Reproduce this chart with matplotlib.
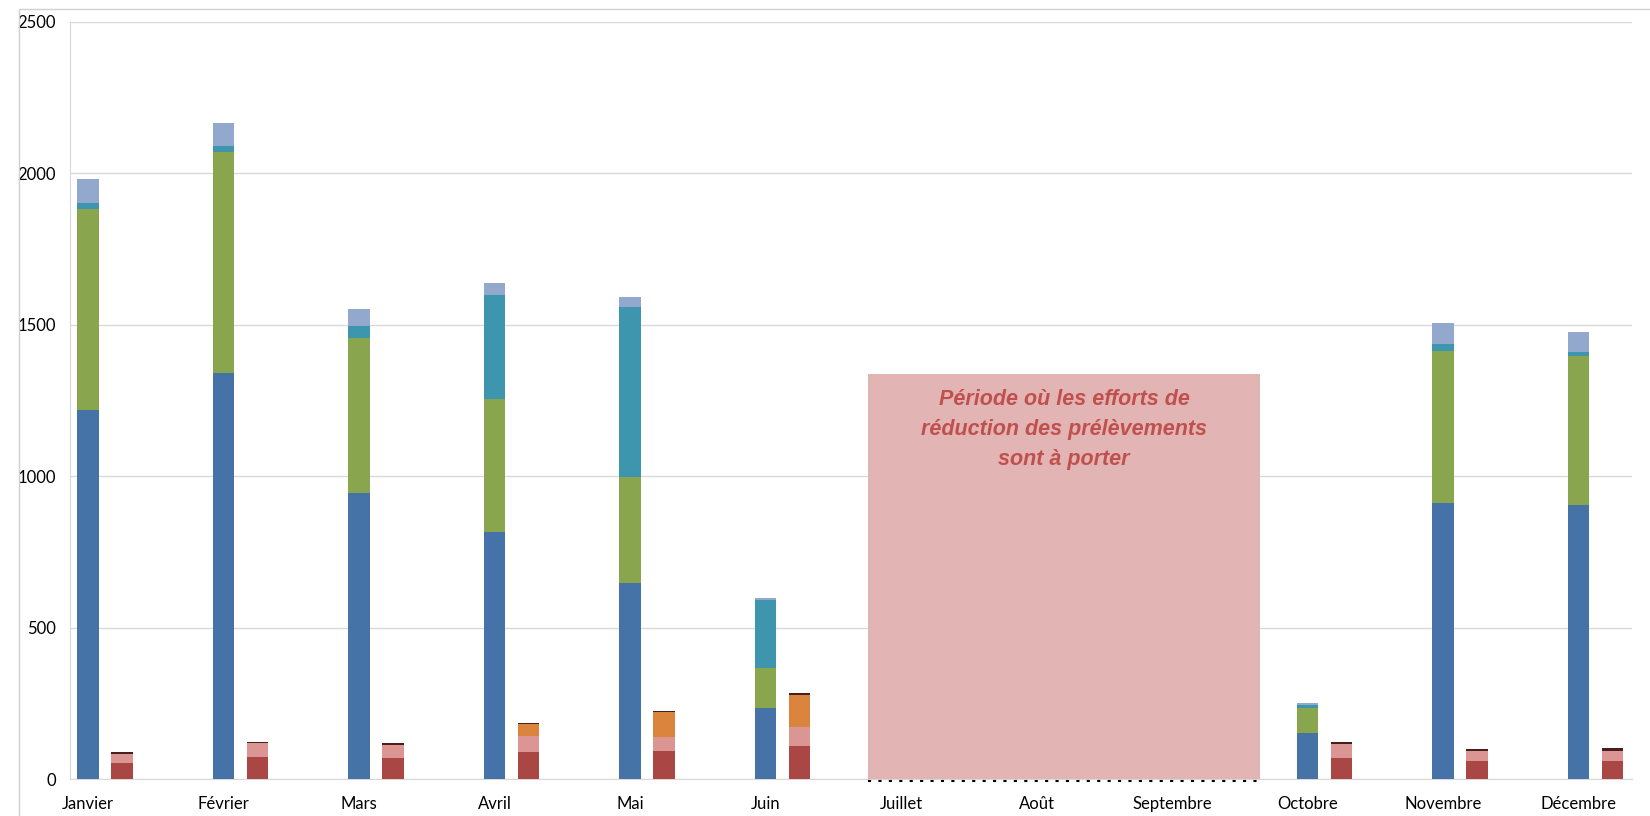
import matplotlib.pyplot as plt
from matplotlib.patches import Rectangle
import numpy as np

months = ["Janvier", "Février", "Mars", "Avril", "Mai", "Juin",
          "Juillet", "Août", "Septembre", "Octobre", "Novembre", "Décembre"]

# tall bars (bottom to top)
blue = [1219, 1340, 944, 816, 646, 236, 0, 0, 0, 151, 913, 906]
green = [662, 731, 511, 439, 351, 130, 0, 0, 0, 82, 500, 491]
teal = [20, 20, 42, 343, 563, 225, 0, 0, 0, 11, 24, 14]
light = [80, 76, 55, 39, 33, 6, 0, 0, 0, 6, 68, 64]

# small bars (bottom to top)
red = [52, 74, 70, 90, 92, 110, 0, 0, 0, 70, 59, 59]
pink = [31, 44, 43, 52, 48, 62, 0, 0, 0, 46, 34, 34]
orange = [0, 0, 0, 38, 80, 107, 0, 0, 0, 0, 0, 0]
dark = [5, 5, 7, 4, 4, 4, 0, 0, 0, 5, 6, 8]

# summer period box
period = (5.756, 8.65)
period_top = 1337
period_text = "Période où les efforts de\nréduction des prélèvements\nsont à porter"

plt.rcParams["font.family"] = ["Lato", "DejaVu Sans"]

fig = plt.figure(figsize=(16.5, 8.16), dpi=100)
ax = fig.add_axes([70 / 1650, 37 / 816, 1562 / 1650, 757 / 816])

x = np.arange(len(months))
w = 0.16


def stack(xpos, series, colors):
    bottom = np.zeros(len(months))
    for vals, c in zip(series, colors):
        vals = np.array(vals, dtype=float)
        ax.bar(xpos, vals, w, bottom=bottom, color=c, zorder=3, linewidth=0)
        bottom += vals


stack(x, [blue, green, teal, light], ["#4572A7", "#89A54E", "#3D96AE", "#92A8CD"])
stack(x + 0.25, [red, pink, orange, dark], ["#AA4643", "#DB9693", "#DB843D", "#4A1E1C"])

# shaded period + dotted base line
ax.add_patch(Rectangle((period[0], 0), period[1] - period[0], period_top,
                       facecolor="#E3B4B4", edgecolor="none", zorder=4))
ax.plot([period[0], period[1] - 0.02], [-6, -6], color="black", lw=1.5,
        linestyle=(0, (1.5, 3.5)), clip_on=False, zorder=5)
ax.text(sum(period) / 2, 1287, period_text, ha="center", va="top",
        fontsize=15.5, fontweight="bold", fontstyle="italic",
        family=["Liberation Sans", "DejaVu Sans"], color="#C0504D",
        linespacing=1.55, zorder=6)

ax.set_xlim(-0.1328, 11.395)
ax.set_ylim(0, 2500)
ax.set_yticks(range(0, 2501, 500))
ax.set_xticks(x)
ax.set_xticklabels(months)
ax.grid(axis="y", color="#D9D9D9", lw=1, zorder=0)
ax.tick_params(axis="both", length=0, labelsize=12, colors="black")
ax.tick_params(axis="y", pad=10)
ax.tick_params(axis="x", pad=12)
for s in ["top", "right"]:
    ax.spines[s].set_visible(False)
ax.spines["left"].set_color("#D9D9D9")
ax.spines["bottom"].set_color("#D9D9D9")

# chart area border (top and left visible)
fig.patches.append(Rectangle((19 / 1650, -0.05), 1.2, 1 - 9 / 816 + 0.05,
                             transform=fig.transFigure, fill=False,
                             edgecolor="#D0D0D0", lw=1))

fig.savefig("out.png", dpi=100)
